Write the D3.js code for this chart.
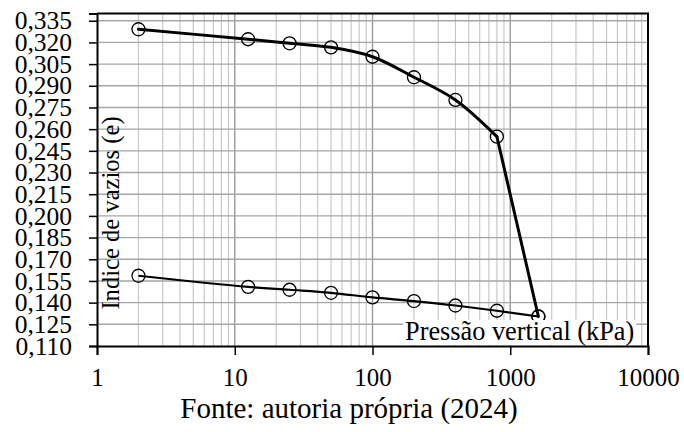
<!DOCTYPE html>
<html lang="pt">
<head>
<meta charset="utf-8">
<title>Indice de vazios x Pressão vertical</title>
<style>
  body { margin: 0; background: #fff; }
  svg text { font-family: "Liberation Serif", "Times New Roman", serif; fill: #000; }
</style>
</head>
<body>
<script src="https://cdn.jsdelivr.net/npm/d3@7"></script>
<script>
// pressures (kPa) and void ratios
var loadPressure = [2, 12.5, 25, 50, 100, 200, 400, 800, 1600];
var loadVoid = [0.3291, 0.3222, 0.3194, 0.3166, 0.3101, 0.2959, 0.2802, 0.2548, 0.1304];
var unloadPressure = [1600, 800, 400, 200, 100, 50, 25, 12.5, 2];
var unloadVoid = [0.1304, 0.1344, 0.1380, 0.1411, 0.1436, 0.1468, 0.1489, 0.1509, 0.1586];
var yTicks = [0.110, 0.125, 0.140, 0.155, 0.170, 0.185, 0.200, 0.215, 0.230,
              0.245, 0.260, 0.275, 0.290, 0.305, 0.320, 0.335];
var xTicks = [1, 10, 100, 1000, 10000];

var W = 684, H = 432;
var margin = {top: 13.5, right: 36, bottom: 86, left: 97},
    width = W - margin.left - margin.right,
    height = H - margin.top - margin.bottom;

var svg = d3.select("body").append("svg")
    .attr("width", W)
    .attr("height", H);

var g = svg.append("g")
    .attr("transform", "translate(" + margin.left + "," + margin.top + ")");

var x = d3.scaleLog().domain([1, 10000]).range([0, width]);
var y = d3.scaleLinear().domain([0.11, 0.34]).range([height, 0]);

// minor / major vertical grid
var minor = [];
xTicks.slice(0, -1).forEach(function(d) {
  for (var k = 2; k <= 9; k++) minor.push(d * k);
});
g.selectAll(".vminor").data(minor).enter().append("line")
    .attr("x1", function(d) { return x(d); }).attr("x2", function(d) { return x(d); })
    .attr("y1", 0).attr("y2", height)
    .attr("stroke", "#c8c8c8").attr("stroke-width", 1.2);
g.selectAll(".vmajor").data(xTicks.slice(1, -1)).enter().append("line")
    .attr("x1", function(d) { return x(d); }).attr("x2", function(d) { return x(d); })
    .attr("y1", 0).attr("y2", height)
    .attr("stroke", "#9a9a9a").attr("stroke-width", 1.4);

// horizontal grid
g.selectAll(".hgrid").data(yTicks.slice(1)).enter().append("line")
    .attr("x1", 0).attr("x2", width)
    .attr("y1", function(d) { return y(d); }).attr("y2", function(d) { return y(d); })
    .attr("stroke", "#a6a6a6").attr("stroke-width", 1.4);

// frame (top and right)
g.append("path")
    .attr("d", "M0,0H" + width + "V" + height)
    .attr("fill", "none").attr("stroke", "#000").attr("stroke-width", 2);

// axes
var fmt = d3.format(".3f");
var yAxis = d3.axisLeft(y).tickValues(yTicks).tickSize(8).tickPadding(17)
    .tickFormat(function(d) { return fmt(d).replace(".", ","); });
var gy = g.append("g").call(yAxis);
gy.select(".domain").attr("stroke-width", 2);
gy.selectAll(".tick line").attr("stroke-width", 1.5);
gy.selectAll("text").attr("font-size", 25.5);

var xAxis = d3.axisBottom(x).tickValues(xTicks).tickSize(9).tickPadding(13)
    .tickFormat(d3.format("d"));
var gx = g.append("g").attr("transform", "translate(0," + height + ")").call(xAxis);
gx.select(".domain").attr("stroke-width", 2);
gx.selectAll(".tick line").attr("stroke-width", 1.5);
gx.selectAll("text").attr("font-size", 25);

// curves: smoothed up to 800 kPa, then straight to the last load step
var loadData = loadPressure.map(function(p, i) { return [p, loadVoid[i]]; });
var unloadData = unloadPressure.map(function(p, i) { return [p, unloadVoid[i]]; });

var smooth = d3.line()
    .x(function(d) { return x(d[0]); })
    .y(function(d) { return y(d[1]); })
    .curve(d3.curveCatmullRom.alpha(0.5));
var straight = d3.line()
    .x(function(d) { return x(d[0]); })
    .y(function(d) { return y(d[1]); });

var n = loadData.length;
g.append("path").datum(loadData.slice(0, n - 1)).attr("d", smooth)
    .attr("fill", "none").attr("stroke", "#000").attr("stroke-width", 3)
    .attr("stroke-linecap", "round");
g.append("path").datum(loadData.slice(n - 2)).attr("d", straight)
    .attr("fill", "none").attr("stroke", "#000").attr("stroke-width", 3)
    .attr("stroke-linecap", "round");
g.append("path").datum(unloadData).attr("d", smooth)
    .attr("fill", "none").attr("stroke", "#000").attr("stroke-width", 2.2)
    .attr("stroke-linejoin", "round");

g.selectAll(".pt").data(loadData.concat(unloadData)).enter().append("circle")
    .attr("cx", function(d) { return x(d[0]); })
    .attr("cy", function(d) { return y(d[1]); })
    .attr("r", 6.5)
    .attr("fill", "none").attr("stroke", "#000").attr("stroke-width", 1.3);

// x axis title with white box
var xt = g.append("g");
var xtText = xt.append("text")
    .attr("x", 308).attr("y", 326.5)
    .attr("font-size", 26.3)
    .text("Pressão vertical (kPa)");
var bb = xtText.node().getBBox();
xt.insert("rect", "text")
    .attr("x", bb.x - 2).attr("y", bb.y + 3)
    .attr("width", bb.width + 4).attr("height", height - bb.y - 4)
    .attr("fill", "#fff");

// y axis title
g.append("text")
    .attr("transform", "translate(22," + (213 - margin.top) + ") rotate(-90)")
    .attr("text-anchor", "middle")
    .attr("font-size", 24.6)
    .text("Indice de vazios (e)");

// source
svg.append("text")
    .attr("x", 349).attr("y", 418)
    .attr("text-anchor", "middle")
    .attr("font-size", 29)
    .text("Fonte: autoria própria (2024)");
</script>
</body>
</html>
